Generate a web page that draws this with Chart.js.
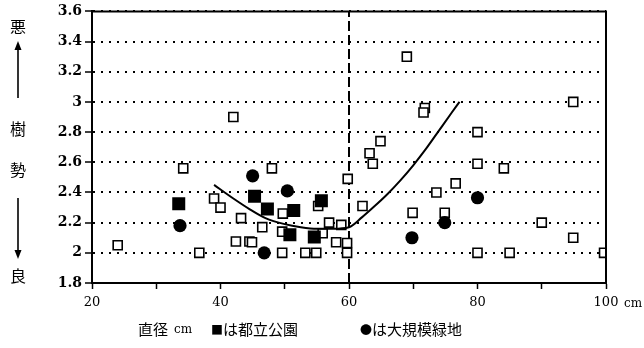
<!DOCTYPE html>
<html>
<head>
<meta charset="utf-8">
<script src="https://cdn.jsdelivr.net/npm/chart.js@4/dist/chart.umd.min.js"></script>
<style>
  html, body { margin: 0; padding: 0; background: #fff; }
  #wrap { position: relative; width: 644px; height: 348px; overflow: hidden; background: #fff; }
  #c { position: absolute; left: 0; top: 0; }
  .t { position: absolute; color: #000; line-height: 1; white-space: nowrap;
       font-family: "Noto Sans CJK JP", "Noto Sans CJK SC", sans-serif; }
  .side { font-size: 16px; width: 16px; text-align: center; left: 10px; }
  .cap { font-size: 15px; top: 321px; }
  .mk { font-size: 12px; }
  .unit { font-family: "DejaVu Serif", serif; font-size: 12px; }
  svg { position: absolute; left: 0; top: 0; }
</style>
</head>
<body>
<div id="wrap">
  <canvas id="c" width="644" height="348"></canvas>

  <!-- vertical axis caption: 悪 ↑ 樹勢 ↓ 良 -->
  <div class="t side" style="top:18px">悪</div>
  <div class="t side" style="top:120px">樹</div>
  <div class="t side" style="top:161px">勢</div>
  <div class="t side" style="top:267px">良</div>
  <svg width="40" height="300" viewBox="0 0 40 300">
    <line x1="18" y1="48" x2="18" y2="98" stroke="#000" stroke-width="1.6"/>
    <polygon points="18,41 14.5,50 21.5,50" fill="#000"/>
    <line x1="18" y1="198" x2="18" y2="251" stroke="#000" stroke-width="1.6"/>
    <polygon points="18,259 14.5,250 21.5,250" fill="#000"/>
  </svg>

  <!-- unit after the last x tick -->
  <div class="t unit" style="left:624px;top:297px">cm</div>

  <!-- bottom caption -->
  <div class="t cap" style="left:138px">直径</div>
  <div class="t unit" style="left:174px;top:323px">cm</div>
  <div class="t cap" style="left:211px"><span class="mk">■</span>は都立公園</div>
  <div class="t cap" style="left:360px"><span class="mk">●</span>は大規模緑地</div>
</div>

<script>
// ---- axis ticks ----
const xTickValues = [20, 30, 40, 50, 60, 70, 80, 90, 100];
const xTickLabels = ['20', '', '40', '', '60', '', '80', '', '100'];
const yTickValues = [1.8, 2.0, 2.2, 2.4, 2.6, 2.8, 3.0, 3.2, 3.4, 3.6];
const yTickLabels = ['1.8', '2', '2.2', '2.4', '2.6', '2.8', '3', '3.2', '3.4', '3.6'];

// ---- trees: diameter (cm) vs. vigour score ----
// open squares: all other trees
const otherX = [24.0, 34.2, 36.7, 39.0, 40.0, 42.0, 42.4, 43.2, 44.5, 44.9, 46.5, 48.0, 49.7, 49.6,
                49.6, 53.2, 54.9, 55.2, 55.9, 56.9, 58.8, 58.0, 59.7, 59.7, 59.8, 62.1, 63.2, 63.7,
                64.9, 69.0, 71.8, 71.6, 69.9, 73.6, 74.9, 76.6, 80.0, 80.0, 80.0, 84.1, 85.0, 90.0,
                94.9, 94.9, 99.7];
const otherY = [2.05, 2.56, 2.00, 2.36, 2.30, 2.90, 2.075, 2.23, 2.075, 2.07, 2.17, 2.56, 2.26, 2.00,
                2.14, 2.00, 2.00, 2.31, 2.13, 2.20, 2.185, 2.07, 2.065, 2.00, 2.49, 2.31, 2.66, 2.59,
                2.74, 3.30, 2.96, 2.93, 2.265, 2.40, 2.265, 2.46, 2.80, 2.59, 2.00, 2.56, 2.00, 2.20,
                3.00, 2.10, 2.00];
// filled squares: metropolitan parks (都立公園)
const parkX = [33.5, 45.3, 47.3, 51.4, 55.7, 50.8, 54.6];
const parkY = [2.325, 2.375, 2.29, 2.28, 2.345, 2.12, 2.105];
// filled circles: large green areas (大規模緑地)
const greenX = [33.7, 45.0, 46.8, 50.4, 69.8, 74.9, 80.0];
const greenY = [2.18, 2.51, 2.00, 2.41, 2.10, 2.20, 2.365];
// fitted trend curve
const trendX = [39, 42, 44.5, 47, 50, 52.5, 55, 57.5, 60, 62, 64, 66, 68, 70, 72, 74, 76, 77.2];
const trendY = [2.45, 2.36, 2.29, 2.23, 2.19, 2.17, 2.16, 2.16, 2.17, 2.235, 2.31, 2.39, 2.48, 2.58, 2.69, 2.81, 2.93, 3.00];
// 60 cm dividing line
const splitX = [60, 60];
const splitY = [1.8, 3.6];

const pts = (xs, ys) => xs.map((x, i) => ({ x, y: ys[i] }));

// top and right edges of the plot frame
const frame = {
  id: 'frame',
  afterDatasetsDraw(chart) {
    const { ctx, chartArea: a } = chart;
    ctx.save();
    ctx.strokeStyle = '#000';
    ctx.lineWidth = 2;
    ctx.beginPath();
    ctx.moveTo(a.left, a.top);
    ctx.lineTo(a.right, a.top);
    ctx.lineTo(a.right, a.bottom);
    ctx.stroke();
    ctx.restore();
  }
};

new Chart(document.getElementById('c'), {
  type: 'scatter',
  data: {
    datasets: [
      { data: pts(trendX, trendY), showLine: true, borderColor: '#000', borderWidth: 2,
        pointRadius: 0, tension: 0.4, cubicInterpolationMode: 'monotone', order: 0 },
      { data: pts(parkX, parkY), pointStyle: 'rect', pointRadius: 9.2,
        backgroundColor: '#000', borderColor: '#000', borderWidth: 0, order: 1 },
      { data: pts(greenX, greenY), pointStyle: 'circle', pointRadius: 6.6,
        backgroundColor: '#000', borderColor: '#000', borderWidth: 0, order: 2 },
      { data: pts(otherX, otherY), pointStyle: 'rect', pointRadius: 6.4,
        backgroundColor: '#fff', borderColor: '#000', borderWidth: 1.6, order: 3 },
      { data: pts(splitX, splitY), showLine: true, borderColor: '#000', borderWidth: 2,
        borderDash: [10, 4], pointRadius: 0, order: 4 }
    ]
  },
  options: {
    responsive: false,
    devicePixelRatio: 1,
    animation: false,
    events: [],
    layout: { padding: { left: 0, right: 38, top: 6, bottom: 0 } },
    plugins: { legend: { display: false }, tooltip: { enabled: false } },
    scales: {
      x: {
        type: 'linear', min: 20, max: 100,
        afterBuildTicks: s => { s.ticks = xTickValues.map(v => ({ value: v })); },
        afterFit: s => { s.height = 65; },
        ticks: {
          autoSkip: false, maxRotation: 0, padding: 6, color: '#000',
          font: { family: 'DejaVu Serif', size: 13 },
          callback: (v, i) => xTickLabels[i]
        },
        grid: { drawOnChartArea: false, drawTicks: true, tickLength: 6, tickWidth: 1.5,
                color: '#000' },
        border: { display: true, color: '#000', width: 2 }
      },
      y: {
        type: 'linear', min: 1.8, max: 3.6,
        afterBuildTicks: s => { s.ticks = yTickValues.map(v => ({ value: v })); },
        afterFit: s => { s.width = 92; },
        ticks: {
          padding: 3, color: '#000',
          font: { family: 'DejaVu Serif', size: 14, weight: 'bold' },
          callback: (v, i) => yTickLabels[i]
        },
        grid: { drawOnChartArea: true, drawTicks: true, tickLength: 7, tickWidth: 1.5,
                lineWidth: 2, color: '#000' },
        border: { display: true, color: '#000', width: 2, dash: [2, 6] }
      }
    }
  },
  plugins: [frame]
});
</script>
</body>
</html>
